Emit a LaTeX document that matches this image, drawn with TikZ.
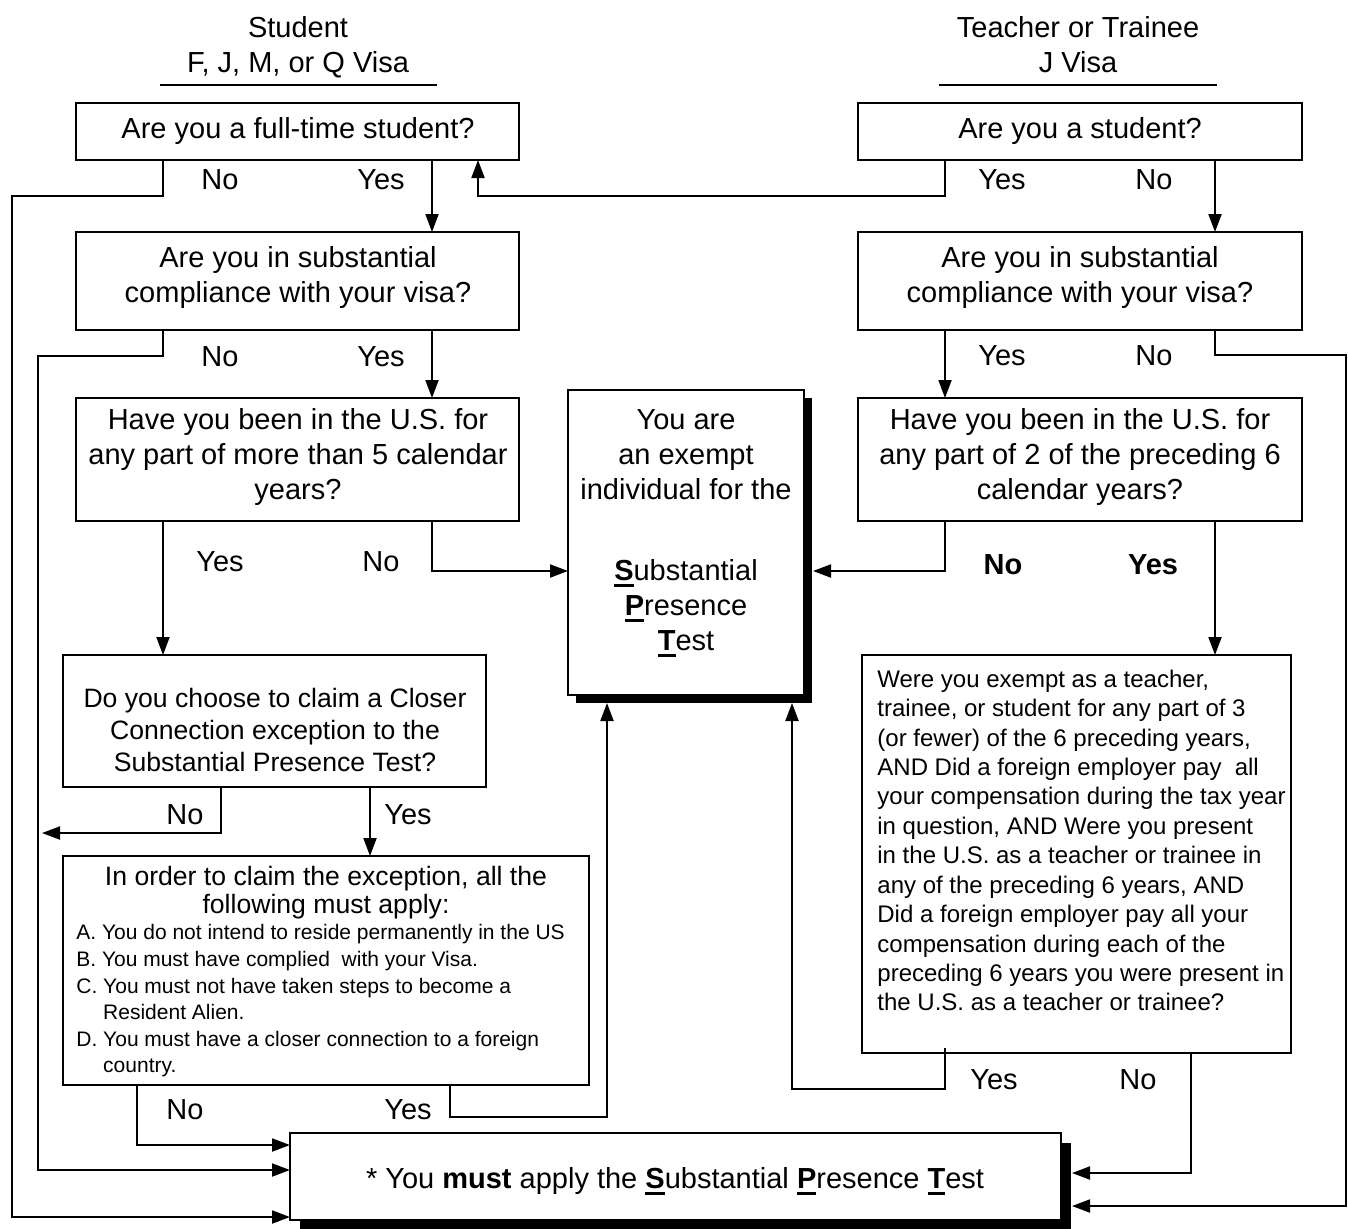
\documentclass[tikz,border=0pt]{standalone}
\usepackage{fontspec}
\setmainfont{Liberation Sans}
\usetikzlibrary{arrows.meta,calc,shadows}
\newcommand\fmain{\fontsize{14.5pt}{17.5pt}\selectfont}
\newcommand\fmid{\fontsize{13.3pt}{16pt}\selectfont}
\newcommand\fhead{\fontsize{13.3pt}{14pt}\selectfont}
\newcommand\fsmall{\fontsize{10.5pt}{13.3pt}\selectfont}
\newcommand\fright{\fontsize{12pt}{14.7pt}\selectfont}
\newsavebox\ulbox
\newcommand\ulbold[1]{\sbox\ulbox{\textbf{#1}}\rlap{\rule[-3.2pt]{\wd\ulbox}{1.4pt}}\usebox\ulbox}
\tikzset{
 qbox/.style={draw, line width=1pt, fill=white, anchor=north west, inner sep=0pt, outer sep=0pt},
 arr/.style={line width=1pt, -{Triangle[length=9pt,width=6.5pt]}},
 ln/.style={line width=1pt},
 lbl/.style={font=\fmain, inner sep=0pt},
 blbl/.style={font=\fmain\bfseries, inner sep=0pt},
 txt/.style={font=\fmain, align=center, inner sep=0pt},
 shad/.style={drop shadow={shadow xshift=#1, shadow yshift=-#1, fill=black, opacity=1}},
}
\begin{document}
\begin{tikzpicture}[x=0.5pt,y=-0.5pt]
\useasboundingbox (0,0) rectangle (1348,1228);

% headers
\node[txt] (hs) at (298,47) {Student\\F, J, M, or Q Visa};
\node[txt] (ht) at (1078,45) {Teacher or Trainee\\J Visa};
\draw[ln] (160,85) -- (437,85);
\draw[ln] (939,85) -- (1217,85);

% boxes
\node[qbox, minimum width=221.5pt, minimum height=28.5pt] (b1) at (76,103) {};
\node[qbox, minimum width=221.5pt, minimum height=49pt] (b2) at (76,232) {};
\node[qbox, minimum width=221.5pt, minimum height=61.5pt] (b3) at (76,398) {};
\node[qbox, minimum width=222pt, minimum height=28.5pt] (b1r) at (858,103) {};
\node[qbox, minimum width=222pt, minimum height=49pt] (b2r) at (858,232) {};
\node[qbox, minimum width=222pt, minimum height=61.5pt] (b3r) at (858,398) {};
\node[qbox, shad=4pt, minimum width=118pt, minimum height=152.5pt] (c) at (568,390) {};
\node[qbox, minimum width=211.5pt, minimum height=66pt] (b4) at (63,655) {};
\node[qbox, minimum width=263pt, minimum height=114.5pt] (b5) at (63,856) {};
\node[qbox, minimum width=214.5pt, minimum height=199pt] (b4r) at (862,655) {};
\node[qbox, shad=5pt, minimum width=385.5pt, minimum height=43.5pt] (d) at (290,1133) {};

% box texts
\node[txt] (tb1) at (298,131) {Are you a full-time student?};
\node[txt] (tb2) at (298,277) {Are you in substantial\\compliance with your visa?};
\node[txt] (tb3) at (298,457) {Have you been in the U.S. for\\any part of more than 5 calendar\\years?};
\node[txt] (tb1r) at (1080,131) {Are you a student?};
\node[txt] (tb2r) at (1080,277) {Are you in substantial\\compliance with your visa?};
\node[txt] (tb3r) at (1080,457) {Have you been in the U.S. for\\any part of 2 of the preceding 6\\calendar years?};
\node[txt] (tca) at (686,455) {You are\\an exempt\\individual for the};
\node[txt] (tcb) at (686,608) {\ulbold{S}ubstantial\\\ulbold{P}resence\\\ulbold{T}est};
\node[txt, font=\fmid] (tb4) at (275,730) {Do you choose to claim a Closer\\Connection exception to the\\Substantial Presence Test?};
\node[txt, font=\fhead] (tb5h) at (326,893) {In order to claim the exception, all the\\following must apply:};
\node[font=\fsmall, align=left, inner sep=0pt, anchor=west] (tb5l) at (76,1001) {A. You do not intend to reside permanently in the US\\B. You must have complied\ \ with your Visa.\\C. You must not have taken steps to become a\\\hphantom{C.}\ Resident Alien.\\D. You must have a closer connection to a foreign\\\hphantom{C.}\ country.};
\node[font=\fright, align=left, inner sep=0pt, anchor=west] (tb4r) at (877,840.5) {Were you exempt as a teacher,\\trainee, or student for any part of 3\\(or fewer) of the 6 preceding years,\\AND Did a foreign employer pay\ \ all\\your compensation during the tax year\\in question, AND Were you present\\in the U.S. as a teacher or trainee in\\any of the preceding 6 years, AND\\Did a foreign employer pay all your\\compensation during each of the\\preceding 6 years you were present in\\the U.S. as a teacher or trainee?};
\node[txt] (td) at (675,1181) {* You \textbf{must} apply the \ulbold{S}ubstantial \ulbold{P}resence \ulbold{T}est};

% labels
\node[lbl] (l1) at (220,180) {No};
\node[lbl] (l2) at (381,180) {Yes};
\node[lbl] (l3) at (220,357) {No};
\node[lbl] (l4) at (381,357) {Yes};
\node[lbl] (l5) at (220,562) {Yes};
\node[lbl] (l6) at (381,562) {No};
\node[lbl] (l7) at (185,815) {No};
\node[lbl] (l8) at (408,815) {Yes};
\node[lbl] (l9) at (185,1110) {No};
\node[lbl] (l10) at (408,1110) {Yes};
\node[lbl] (r1) at (1002,180) {Yes};
\node[lbl] (r2) at (1154,180) {No};
\node[lbl] (r3) at (1002,356) {Yes};
\node[lbl] (r4) at (1154,356) {No};
\node[blbl] (r5) at (1003,565) {No};
\node[blbl] (r6) at (1153,565) {Yes};
\node[lbl] (r7) at (994,1080) {Yes};
\node[lbl] (r8) at (1138,1080) {No};

% channel coordinates
\coordinate (xA) at (163,0);
\coordinate (xB) at (432,0);
\coordinate (xR) at (478,0);
\coordinate (xC) at (945,0);
\coordinate (xD) at (1215,0);
\coordinate (xE) at (221,0);
\coordinate (xF) at (370,0);
\coordinate (xG) at (137,0);
\coordinate (xH) at (450,0);
\coordinate (xI) at (607,0);
\coordinate (xJ) at (792,0);
\coordinate (xK) at (1191,0);
\coordinate (yC) at (0,571);
\coordinate (yD1) at (0,1145);
\coordinate (yD2) at (0,1170);
\coordinate (yD3) at (0,1217);
\coordinate (yR1) at (0,1173);
\coordinate (yR2) at (0,1206);
\coordinate (endNo) at (42,833);

% connectors
\draw[arr] (b1.south -| xA) -- ++(0,36) -- ++(-151,0) |- (d.west |- yD3);
\draw[arr] (b1r.south -| xC) -- ++(0,36) -| (b1.south -| xR);
\draw[arr] (b1.south -| xB) -- (b2.north -| xB);
\draw[arr] (b2.south -| xA) -- ++(0,26) -- ++(-125,0) |- (d.west |- yD2);
\draw[arr] (b2.south -| xB) -- (b3.north -| xB);
\draw[arr] (b3.south -| xA) -- (b4.north -| xA);
\draw[arr] (b3.south -| xB) |- (c.west |- yC);
\draw[arr] (b1r.south -| xD) -- (b2r.north -| xD);
\draw[arr] (b2r.south -| xC) -- (b3r.north -| xC);
\draw[arr] (b2r.south -| xD) -- ++(0,25) -- ++(131,0) |- ($(d.east |- yR2)+(11,0)$);
\draw[arr] (b3r.south -| xC) |- ($(c.east |- yC)+(9,0)$);
\draw[arr] (b3r.south -| xD) -- (b4r.north -| xD);
\draw[arr] (b4.south -| xE) |- (endNo);
\draw[arr] (b4.south -| xF) -- (b5.north -| xF);
\draw[arr] (b5.south -| xG) |- (d.west |- yD1);
\draw[arr] (b5.south -| xH) -- ++(0,32) -| ($(c.south -| xI)+(0,8)$);
\draw[arr] ($(b4r.south -| xC)+(0,-5)$) -- ++(0,41) -| ($(c.south -| xJ)+(0,8)$);
\draw[arr] (b4r.south -| xK) |- ($(d.east |- yR1)+(11,0)$);
\end{tikzpicture}
\end{document}
